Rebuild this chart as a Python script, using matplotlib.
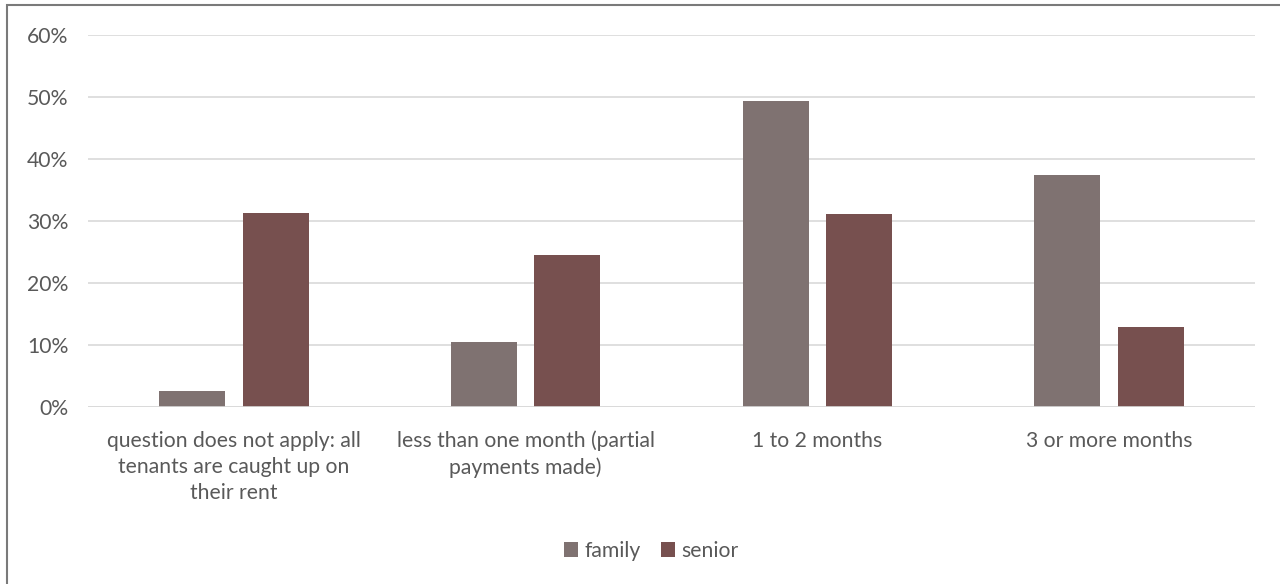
import matplotlib.pyplot as plt
import numpy as np
from matplotlib.patches import Rectangle

# Rent arrears by household type
categories = [
    "question does not apply: all\ntenants are caught up on\ntheir rent",
    "less than one month (partial\npayments made)",
    "1 to 2 months",
    "3 or more months",
]
family = [2.6, 10.5, 49.3, 37.4]
senior = [31.3, 24.5, 31.1, 12.9]
y_ticks = [0, 10, 20, 30, 40, 50, 60]

family_color = "#7f7271"
senior_color = "#77504f"
text_color = "#595959"

plt.rcParams["font.family"] = ["Lato", "DejaVu Sans"]
fs = 15.2

fig = plt.figure(figsize=(12.8, 5.84), dpi=100)
ax = fig.add_axes([88 / 1280, 1 - 407 / 584, (1255 - 88) / 1280, (407 - 35) / 584])

x = np.arange(len(categories))
width = 0.226
offset = 0.143
ax.bar(x - offset, family, width, color=family_color, label="family", zorder=3)
ax.bar(x + offset, senior, width, color=senior_color, label="senior", zorder=3)

ax.set_xlim(-0.5, len(categories) - 0.5)
ax.set_ylim(0, 60)
ax.set_yticks(y_ticks)
ax.set_yticklabels([f"{t}%" for t in y_ticks], fontsize=fs, color=text_color)
ax.set_xticks(x)
ax.set_xticklabels(categories, fontsize=fs, color=text_color, linespacing=1.4)
ax.tick_params(axis="both", length=0)
ax.tick_params(axis="y", pad=14)
ax.tick_params(axis="x", pad=17)
ax.yaxis.grid(True, color="#d9d9d9", linewidth=1.2, zorder=0)
for s in ax.spines.values():
    s.set_visible(False)
ax.axhline(0, color="#d9d9d9", linewidth=1.2, zorder=4)

leg = fig.legend(loc="center", bbox_to_anchor=(651 / 1280, 1 - 551 / 584), ncol=2, frameon=False,
                 fontsize=fs, handlelength=0.67, handleheight=0.67, handletextpad=0.3,
                 columnspacing=0.95)
for t in leg.get_texts():
    t.set_color(text_color)

# outer chart frame
fig.patches.append(Rectangle((7 / 1280, -0.01), 1.02, 1 - 5 / 584 + 0.01,
                             transform=fig.transFigure, fill=False,
                             edgecolor="#7a7a7a", linewidth=1.5))

fig.savefig("out.png", dpi=100)
